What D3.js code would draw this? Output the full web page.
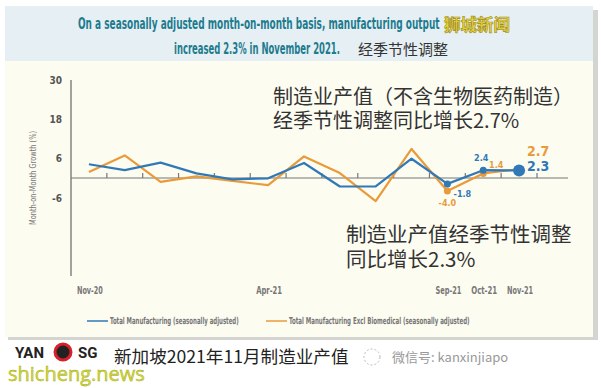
<!DOCTYPE html>
<html>
<head>
<meta charset="utf-8">
<script src="https://cdn.jsdelivr.net/npm/d3@7"></script>
<style>
  html, body { margin: 0; padding: 0; background: #fff; }
  svg { display: block; }
  .cond { font-family: "DejaVu Sans Condensed", "DejaVu Sans", sans-serif; font-stretch: condensed; }
  .cjk { font-family: "Noto Sans CJK SC", sans-serif; }
</style>
</head>
<body>
<svg id="chart" width="601" height="388"></svg>
<script>
'use strict';

var months = ['Nov-20', 'Dec-20', 'Jan-21', 'Feb-21', 'Mar-21', 'Apr-21', 'May-21',
    'Jun-21', 'Jul-21', 'Aug-21', 'Sep-21', 'Oct-21', 'Nov-21'];
var totalMfg = [4.2, 2.4, 4.7, 1.4, -0.4, -0.1, 4.6, -2.6, -2.6, 5.9, -1.8, 2.4, 2.3];
var exclBio = [1.8, 6.9, -1.2, 0.5, -0.9, -2.2, 6.6, 1.5, -7.1, 8.9, -4.0, 1.4, 2.7];
var xLabels = ['Nov-20', 'Apr-21', 'Sep-21', 'Oct-21', 'Nov-21'];
var yTicks = [30, 18, 6, -6];
var yDomain = [-30, 30];

var blue = '#3079b6';
var orange = '#e99a3a';

var svg = d3.select('#chart');

// squeeze a text horizontally so it spans w pixels (condensed look)
function squeeze(sel, w) {
    sel.each(function () {
        var t = d3.select(this);
        var px = +t.attr('x'), py = +t.attr('y');
        var k = Math.min(1, w / this.getComputedTextLength());
        t.attr('transform', 'translate(' + px + ',' + py + ') scale(' + k + ',1) translate(' + (-px) + ',' + (-py) + ')');
    });
}

// backgrounds
svg.append('rect').attr('x', 8).attr('y', 10).attr('width', 590).attr('height', 330).attr('fill', '#d4d4d0');
svg.append('rect').attr('x', 5).attr('y', 6).attr('width', 588).attr('height', 55).attr('fill', '#e6eff4');
svg.append('rect').attr('x', 5).attr('y', 61).attr('width', 588).attr('height', 276).attr('fill', '#fdfcf1');

// title
var title = svg.append('g').attr('class', 'cond').attr('fill', '#1d7b8e').attr('font-weight', 'bold').attr('font-size', 16);
title.append('text').attr('x', 78).attr('y', 29)
    .text('On a seasonally adjusted month-on-month basis, manufacturing output')
    .call(squeeze, 362);
title.append('text').attr('x', 174).attr('y', 54)
    .text('increased 2.3% in November 2021.')
    .call(squeeze, 166);
svg.append('text').attr('class', 'cjk').attr('x', 358).attr('y', 55).attr('font-size', 15).attr('fill', '#333')
    .text('经季节性调整');
svg.append('text').attr('class', 'cjk').attr('x', 444).attr('y', 31).attr('font-size', 16.5).attr('font-weight', 'bold')
    .attr('fill', '#e8d83a').attr('stroke', '#a08a20').attr('stroke-width', 0.6)
    .text('狮城新闻');

// scales
var x = d3.scaleBand().domain(months).range([71, 537]);
var y = d3.scaleLinear().domain(yDomain).range([276, 80]);
var cx = function (m) { return x(m) + x.bandwidth() / 2; };

// y axis line
svg.append('line').attr('x1', 71).attr('x2', 71).attr('y1', y(30)).attr('y2', y(-30))
    .attr('stroke', '#666').attr('stroke-width', 1.2);

// y tick labels
svg.append('g').attr('class', 'cond').selectAll('text').data(yTicks).enter().append('text')
    .attr('x', 62).attr('y', function (d) { return y(d) + 4; })
    .attr('text-anchor', 'end').attr('font-size', 10).attr('font-weight', 'bold').attr('fill', '#555')
    .text(function (d) { return d; });

svg.append('text').attr('class', 'cond')
    .attr('transform', 'translate(36,178) rotate(-90)')
    .attr('text-anchor', 'middle').attr('font-size', 9).attr('fill', '#777')
    .attr('textLength', 94).attr('lengthAdjust', 'spacingAndGlyphs')
    .text('Month-on-Month Growth (%)');

// zero line with ticks at band boundaries
svg.append('line').attr('x1', 71).attr('x2', 568).attr('y1', y(0)).attr('y2', y(0))
    .attr('stroke', '#777').attr('stroke-width', 1.2);
svg.append('g').selectAll('line').data(months).enter().append('line')
    .attr('x1', function (d) { return x(d) + x.bandwidth(); })
    .attr('x2', function (d) { return x(d) + x.bandwidth(); })
    .attr('y1', y(0) - 5).attr('y2', y(0))
    .attr('stroke', '#777').attr('stroke-width', 1.2);

// x labels
svg.append('g').attr('class', 'cond').selectAll('text').data(xLabels).enter().append('text')
    .attr('x', function (d) { return cx(d) + 1; }).attr('y', 294)
    .attr('text-anchor', 'middle').attr('font-size', 10.5).attr('font-weight', 'bold').attr('fill', '#777')
    .text(function (d) { return d; })
    .call(squeeze, 26);

// lines
var line = d3.line()
    .x(function (d, i) { return cx(months[i]); })
    .y(function (d) { return y(d); });

svg.append('path').datum(exclBio).attr('d', line)
    .attr('fill', 'none').attr('stroke', orange).attr('stroke-width', 2.2).attr('stroke-linejoin', 'round');
svg.append('path').datum(totalMfg).attr('d', line)
    .attr('fill', 'none').attr('stroke', blue).attr('stroke-width', 2.2).attr('stroke-linejoin', 'round');

// dots
var orangeDots = [10, 11];
var blueDots = [{ i: 10, r: 3.5 }, { i: 11, r: 3.5 }, { i: 12, r: 6 }];
svg.append('g').selectAll('circle').data(orangeDots).enter().append('circle')
    .attr('cx', function (i) { return cx(months[i]); })
    .attr('cy', function (i) { return y(exclBio[i]); })
    .attr('r', 3.5).attr('fill', orange);
svg.append('g').selectAll('circle').data(blueDots).enter().append('circle')
    .attr('cx', function (d) { return cx(months[d.i]); })
    .attr('cy', function (d) { return y(totalMfg[d.i]); })
    .attr('r', function (d) { return d.r; }).attr('fill', blue);

// value labels
var vl = svg.append('g').attr('class', 'cond').attr('font-weight', 'bold');
vl.append('text').attr('x', cx('Oct-21') - 2).attr('y', y(totalMfg[11]) - 9).attr('text-anchor', 'middle')
    .attr('font-size', 9).attr('fill', blue).text(totalMfg[11].toFixed(1));
vl.append('text').attr('x', cx('Oct-21') + 13).attr('y', y(exclBio[11]) - 5).attr('text-anchor', 'middle')
    .attr('font-size', 9).attr('fill', orange).text(exclBio[11].toFixed(1));
vl.append('text').attr('x', cx('Sep-21') + 15).attr('y', y(totalMfg[10]) + 13).attr('text-anchor', 'middle')
    .attr('font-size', 9).attr('fill', blue).text(totalMfg[10].toFixed(1));
vl.append('text').attr('x', cx('Sep-21')).attr('y', y(exclBio[10]) + 15).attr('text-anchor', 'middle')
    .attr('font-size', 9).attr('fill', orange).text(exclBio[10].toFixed(1));
vl.append('text').attr('x', 527).attr('y', 156).attr('font-size', 14).attr('fill', orange).text(exclBio[12].toFixed(1));
vl.append('text').attr('x', 527).attr('y', 171).attr('font-size', 14).attr('fill', blue).text(totalMfg[12].toFixed(1));

// annotations
var ann = svg.append('g').attr('class', 'cjk').attr('fill', '#333');
ann.append('text').attr('x', 273).attr('y', 104).attr('font-size', 20).text('制造业产值（不含生物医药制造）');
ann.append('text').attr('x', 273).attr('y', 128).attr('font-size', 20).text('经季节性调整同比增长2.7%');
ann.append('text').attr('x', 346).attr('y', 242).attr('font-size', 20.5).text('制造业产值经季节性调整');
ann.append('text').attr('x', 346).attr('y', 267).attr('font-size', 20.5).text('同比增长2.3%');

// legend
var legend = [
    { x: 87, color: blue, label: 'Total Manufacturing (seasonally adjusted)', w: 129 },
    { x: 266, color: orange, label: 'Total Manufacturing Excl Biomedical (seasonally adjusted)', w: 181 }
];
var lg = svg.append('g').attr('class', 'cond').selectAll('g').data(legend).enter().append('g');
lg.append('line').attr('x1', function (d) { return d.x; }).attr('x2', function (d) { return d.x + 21; })
    .attr('y1', 321).attr('y2', 321).attr('stroke', function (d) { return d.color; }).attr('stroke-width', 1.5);
lg.append('text').attr('x', function (d) { return d.x + 23; }).attr('y', 324)
    .attr('font-size', 9.5).attr('font-weight', 'bold').attr('fill', '#777')
    .text(function (d) { return d.label; })
    .each(function (d) { d3.select(this).call(squeeze, d.w); });

// footer
var ft = svg.append('g');
ft.append('text').attr('x', 15).attr('y', 358).attr('font-family', 'Roboto, sans-serif').attr('font-weight', 'bold')
    .attr('font-size', 15).attr('fill', '#222').text('YAN');
ft.append('circle').attr('cx', 63).attr('cy', 352).attr('r', 8).attr('fill', '#222')
    .attr('stroke', '#d8202a').attr('stroke-width', 3);
ft.append('text').attr('x', 78).attr('y', 358).attr('font-family', 'Roboto, sans-serif').attr('font-weight', 'bold')
    .attr('font-size', 15).attr('fill', '#222').text('SG');
ft.append('text').attr('x', 8).attr('y', 381).attr('font-family', '"Open Sans", sans-serif')
    .attr('font-size', 20).attr('fill', '#d6dc30').attr('stroke', '#9aa020').attr('stroke-width', 0.4)
    .text('shicheng.news');
ft.append('text').attr('class', 'cjk').attr('x', 114).attr('y', 363).attr('font-size', 17.6).attr('fill', '#222')
    .text('新加坡2021年11月制造业产值');
ft.append('circle').attr('cx', 372).attr('cy', 357).attr('r', 8).attr('fill', 'none')
    .attr('stroke', '#bbb').attr('stroke-width', 1).attr('stroke-dasharray', '2,2');
ft.append('text').attr('class', 'cjk').attr('x', 392).attr('y', 362).attr('font-size', 13).attr('fill', '#999')
    .text('微信号: kanxinjiapo');
</script>
</body>
</html>
